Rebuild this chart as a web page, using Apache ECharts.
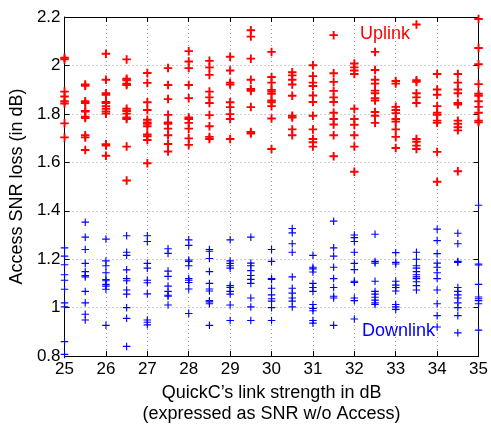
<!DOCTYPE html>
<html>
<head>
<meta charset="utf-8">
<script src="https://cdn.jsdelivr.net/npm/echarts@6/dist/echarts.min.js"></script>
<style>html,body{margin:0;padding:0;background:#fff}#c{width:491px;height:430px}</style>
</head>
<body>
<div id="c"></div>
<script>
const xPositions = [25,25.5,26,26.5,27,27.5,28,28.5,29,29.5,30,30.5,31,31.5,32,32.5,33,33.5,34,34.5,35];
const uplink = [
  [2.032,2.025,1.892,1.872,1.852,1.843,1.761,1.703],
  [1.921,1.916,1.852,1.845,1.812,1.81,1.788,1.783,1.712,1.703,1.651],
  [2.048,1.941,1.885,1.879,1.849,1.845,1.832,1.821,1.81,1.801,1.675,1.669,1.627],
  [2.025,1.945,1.939,1.925,1.919,1.821,1.812,1.801,1.785,1.779,1.665,1.525],
  [1.969,1.928,1.848,1.816,1.776,1.765,1.759,1.749,1.715,1.708,1.692,1.596],
  [1.989,1.919,1.861,1.796,1.765,1.759,1.739,1.712,1.676,1.645],
  [2.059,2.016,1.989,1.919,1.865,1.785,1.779,1.763,1.739,1.699,1.672],
  [2.019,1.992,1.961,1.892,1.868,1.845,1.795,1.749,1.705,1.696],
  [2.036,1.979,1.929,1.921,1.848,1.828,1.799,1.779,1.696],
  [2.145,2.119,2.028,1.941,1.903,1.895,1.828,1.725,1.719],
  [2.056,1.952,1.929,1.899,1.892,1.883,1.855,1.848,1.832,1.781,1.655],
  [1.972,1.959,1.941,1.921,1.875,1.792,1.785,1.736,1.712],
  [2.001,1.956,1.929,1.915,1.876,1.849,1.792,1.736,1.696,1.683,1.665],
  [2.125,1.968,1.932,1.895,1.868,1.849,1.805,1.779,1.756,1.712,1.625],
  [2.008,1.992,1.979,1.965,1.821,1.779,1.755,1.712,1.665,1.561],
  [2.056,1.981,1.941,1.925,1.896,1.885,1.865,1.855,1.808,1.792,1.763],
  [1.936,1.925,1.829,1.816,1.803,1.779,1.768,1.736,1.705,1.659],
  [2.169,1.939,1.932,1.885,1.868,1.845,1.696,1.685,1.669,1.655],
  [1.965,1.901,1.879,1.832,1.805,1.796,1.772,1.763,1.643,1.52],
  [1.965,1.929,1.901,1.885,1.845,1.839,1.772,1.759,1.745,1.732,1.563],
  [2.192,2.072,2.005,1.923,1.883,1.875,1.852,1.829,1.805,1.772,1.765]
];
const downlink = [
  [1.247,1.213,1.177,1.136,1.113,1.076,1.02,1.003,0.86,0.807],
  [1.353,1.291,1.24,1.183,1.149,1.133,1.127,1.067,1.02,0.973,0.949],
  [1.283,1.193,1.173,1.144,1.116,1.111,1.096,1.089,1.076,0.927],
  [1.297,1.229,1.216,1.156,1.12,1.111,1.073,1.056,1.0,0.956,0.84],
  [1.297,1.273,1.183,1.163,1.113,1.103,1.057,0.949,0.94,0.929],
  [1.243,1.224,1.151,1.129,1.089,1.067,1.051,1.047,1.011],
  [1.28,1.257,1.197,1.191,1.173,1.12,1.113,1.104,1.077,0.976],
  [1.24,1.233,1.203,1.149,1.1,1.077,1.069,1.029,1.024,1.016,0.927],
  [1.28,1.193,1.183,1.173,1.163,1.091,1.083,1.067,1.056,1.011,0.947],
  [1.291,1.184,1.173,1.153,1.133,1.117,1.1,1.04,1.003,0.947],
  [1.24,1.191,1.12,1.116,1.08,1.053,1.037,1.027,1.0,0.947],
  [1.327,1.309,1.264,1.229,1.127,1.08,1.06,1.04,1.027,1.003],
  [1.216,1.167,1.16,1.147,1.1,1.083,1.067,1.013,0.997,0.987,0.947,0.936],
  [1.357,1.247,1.213,1.167,1.12,1.083,1.047,1.04,0.927],
  [1.3,1.289,1.273,1.229,1.183,1.157,1.109,1.104,1.04,1.029,0.953],
  [1.303,1.191,1.184,1.109,1.067,1.056,1.043,1.031,1.02,1.013],
  [1.227,1.187,1.18,1.109,1.093,1.083,1.069,1.013,1.003,0.993],
  [1.229,1.2,1.173,1.163,1.149,1.136,1.127,1.12,1.107,1.091,1.073],
  [1.324,1.277,1.223,1.184,1.167,1.144,1.12,1.073,1.016,0.967,0.92],
  [1.307,1.264,1.191,1.187,1.083,1.067,1.053,1.04,1.02,1.0,0.967,0.896],
  [1.423,1.18,1.176,1.096,1.044,1.037,1.029,1.016,0.907]
];
const xTicks = [25,26,27,28,29,30,31,32,33,34,35];
const yTicks = [0.8,1,1.2,1.4,1.6,1.8,2,2.2];

function toPoints(cols){
  const pts = [];
  cols.forEach((vals,i)=>vals.forEach(v=>pts.push([xPositions[i], v])));
  return pts;
}
const FONT = '"Liberation Sans", Arial, Helvetica, sans-serif';
const plusRed = 'path://M3.1,0H4.9V3.1H8V4.9H4.9V8H3.1V4.9H0V3.1H3.1Z';
const plusBlue = 'path://M3.4,0H4.6V3.4H8V4.6H4.6V8H3.4V4.6H0V3.4H3.4Z';
const grid = {left:61, right:11, top:17, bottom:63};
const dotted = {show:true, lineStyle:{color:'#9a9a9a', width:1, type:[1,3]}};

const chart = echarts.init(document.getElementById('c'), null, {renderer:'canvas'});
chart.setOption({
  animation:false,
  backgroundColor:'#fff',
  grid: grid,
  xAxis:[{
    type:'value', min:25, max:35, interval:1,
    axisLine:{show:true, onZero:false, lineStyle:{color:'#000', width:1}},
    axisTick:{show:true, inside:true, length:5, lineStyle:{color:'#000'}},
    axisLabel:{show:true, color:'#000', fontSize:17, fontFamily:FONT, margin:5,
      formatter:v=>xTicks.includes(v)?String(v):''},
    splitLine:dotted,
    name:"QuickC\u2019s link strength in dB\n(expressed as SNR w/o Access)",
    nameLocation:'middle', nameGap:20,
    nameTextStyle:{color:'#000', fontSize:18, fontFamily:FONT, lineHeight:21}
  },{
    type:'value', min:25, max:35, interval:1, position:'top',
    axisLine:{show:true, onZero:false, lineStyle:{color:'#000', width:1}},
    axisTick:{show:true, inside:true, length:5, lineStyle:{color:'#000'}},
    axisLabel:{show:false}, splitLine:{show:false}
  }],
  yAxis:[{
    type:'value', min:0.8, max:2.2, interval:0.2,
    axisLine:{show:true, onZero:false, lineStyle:{color:'#000', width:1}},
    axisTick:{show:true, inside:true, length:5, lineStyle:{color:'#000'}},
    axisLabel:{show:true, color:'#000', fontSize:17, fontFamily:FONT, margin:4,
      formatter:v=>{const t=yTicks.find(y=>Math.abs(y-v)<1e-6);return t===undefined?'':String(t);}},
    splitLine:dotted,
    name:'Access SNR loss (in dB)', nameLocation:'middle', nameGap:37,
    nameTextStyle:{color:'#000', fontSize:18, fontFamily:FONT}
  },{
    type:'value', min:0.8, max:2.2, interval:0.2, position:'right',
    axisLine:{show:true, onZero:false, lineStyle:{color:'#000', width:1}},
    axisTick:{show:true, inside:true, length:5, lineStyle:{color:'#000'}},
    axisLabel:{show:false}, splitLine:{show:false}
  }],
  series:[{
    name:'Uplink', type:'scatter', data:toPoints(uplink),
    symbol:plusRed, symbolSize:8.5, itemStyle:{color:'#ff0000', opacity:1}
  },{
    name:'Downlink', type:'scatter', data:toPoints(downlink),
    symbol:plusBlue, symbolSize:7.5, itemStyle:{color:'#0000ff', opacity:1}
  }],
  graphic:[
    {type:'text', left:360, top:25, style:{text:'Uplink', fill:'#ff0000', font:'18px '+FONT}},
    {type:'text', left:362, top:322, style:{text:'Downlink', fill:'#0000ff', font:'18px '+FONT}}
  ]
});
</script>
</body>
</html>
